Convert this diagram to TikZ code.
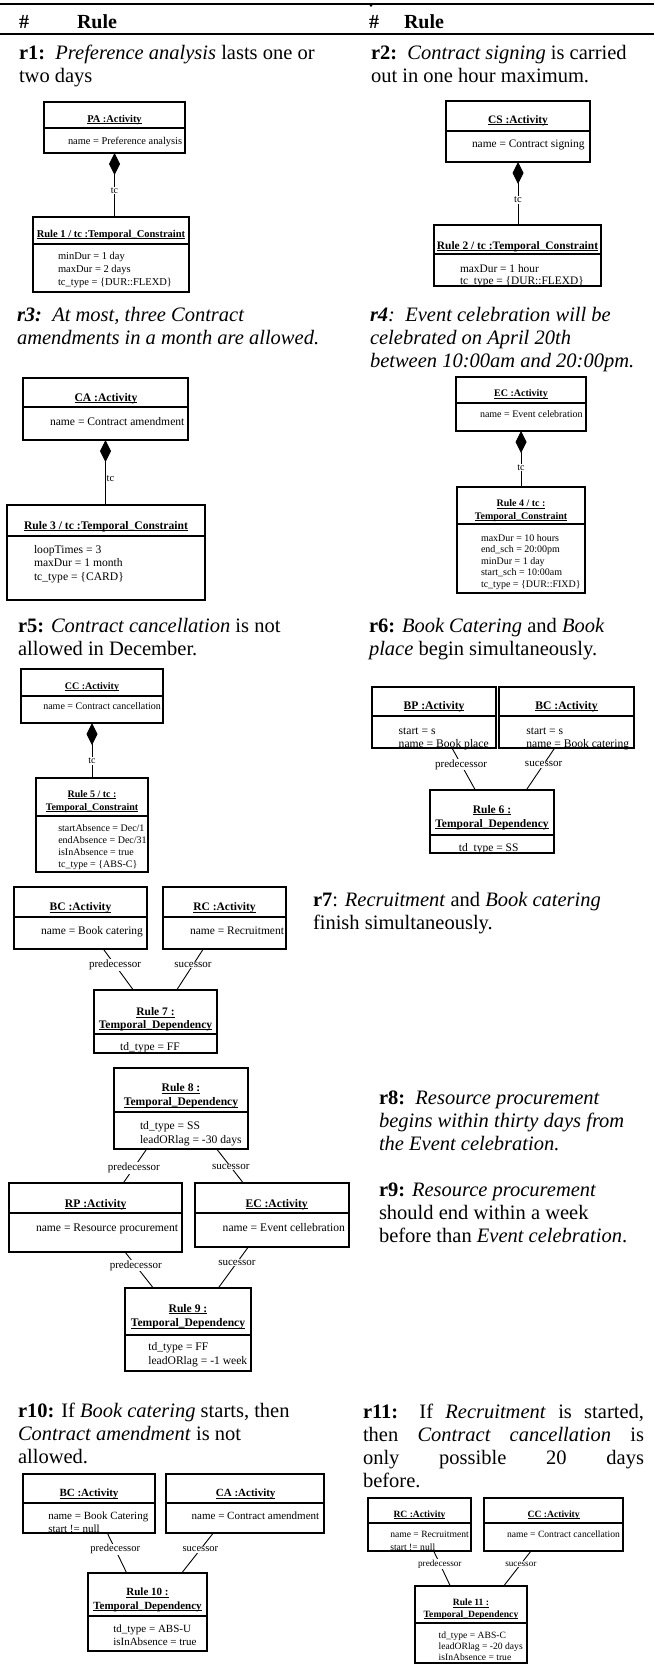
\documentclass[tikz,border=0pt]{standalone}
\usepackage{fontspec}
\setmainfont{Liberation Serif}
\usetikzlibrary{arrows.meta}

\newcommand{\fsz}[1]{\fontsize{#1}{#1}\selectfont}
\newsavebox{\ulbox}
\newcommand{\ulname}[1]{\sbox{\ulbox}{#1}\rlap{\rule[-1.6pt]{\wd\ulbox}{0.7pt}}\usebox{\ulbox}}

\tikzset{
  box/.style={draw, line width=1.1pt, anchor=north west, inner sep=0pt, outer sep=0pt},
  divider/.style={line width=1.1pt},
  txt/.style={inner sep=0pt, outer sep=0pt, anchor=base west},
  ttl/.style={inner sep=0pt, outer sep=0pt, anchor=base},
  link/.style={line width=0.9pt},
  comp/.style={link, {Diamond[length=22pt,width=11pt]}-},
  lbl/.style={fill=white, inner sep=0.8pt},
  para/.style={inner sep=0pt, outer sep=0pt, anchor=base west, font=\fontsize{20.5}{23}\selectfont},
  head/.style={inner sep=0pt, outer sep=0pt, anchor=base west, font=\fontsize{20}{23}\selectfont\bfseries},
}

\begin{document}
\begin{tikzpicture}[x=1pt, y=-1pt]
\useasboundingbox[fill=white] (0,0) rectangle (654,1664);

% ---------- table header ----------
\draw[line width=1.6pt] (0,4) -- (654,4);
\fill (371,5.5) circle (1.3pt);
\node[head] (h1) at (19,29) {\#};
\node[head] (h2) at (77,29) {Rule};
\node[head] (h3) at (369,29) {\#};
\node[head] (h4) at (404,29) {Rule};
\draw[line width=1.6pt] (0,34) -- (654,34);

% ---------- rule texts ----------
\node[para] (t1a) at (19,60) {\textbf{r1:}\ \ \textit{Preference analysis} lasts one or};
\node[para] (t1b) at (19,83) {two days};
\node[para] (t2a) at (371,60) {\textbf{r2:}\ \ \textit{Contract signing} is carried};
\node[para] (t2b) at (371,83) {out in one hour maximum.};

\node[para] (t3a) at (17,321) {\textit{\textbf{r3:}\ \ At most, three Contract}};
\node[para] (t3b) at (17,344) {\textit{amendments in a month are allowed.}};
\node[para] (t4a) at (370,321) {\textit{\textbf{r4}:\ \ Event celebration will be}};
\node[para] (t4b) at (370,344) {\textit{celebrated on April 20th}};
\node[para] (t4c) at (370,367) {\textit{between 10:00am and 20:00pm.}};

\node[para] (t5a) at (18,632) {\textbf{r5:} \textit{Contract cancellation} is not};
\node[para] (t5b) at (18,655) {allowed in December.};
\node[para] (t6a) at (369,632) {\textbf{r6:} \textit{Book Catering} and \textit{Book}};
\node[para] (t6b) at (369,655) {\textit{place} begin simultaneously.};

\node[para] (t7a) at (313,906) {\textbf{r7}: \textit{Recruitment} and \textit{Book catering}};
\node[para] (t7b) at (313,929) {finish simultaneously.};

\node[para] (t8a) at (379,1104) {\textbf{r8:}\ \ \textit{Resource procurement}};
\node[para] (t8b) at (379,1127) {\textit{begins within thirty days from}};
\node[para] (t8c) at (379,1150) {\textit{the Event celebration.}};
\node[para] (t9a) at (379,1196) {\textbf{r9:} \textit{Resource procurement}};
\node[para] (t9b) at (379,1219) {should end within a week};
\node[para] (t9c) at (379,1242) {before than \textit{Event celebration}.};

\node[para] (t10a) at (18,1417) {\textbf{r10:} If \textit{Book catering} starts, then};
\node[para] (t10b) at (18,1440) {\textit{Contract amendment} is not};
\node[para] (t10c) at (18,1463) {allowed.};
\node[para] (t11a) at (363,1418) {\makebox[281pt][s]{\textbf{r11:} If \textit{Recruitment} is started,}};
\node[para] (t11b) at (363,1441) {\makebox[281pt][s]{then \textit{Contract cancellation} is}};
\node[para] (t11c) at (363,1464) {\makebox[281pt][s]{only possible 20 days}};
\node[para] (t11d) at (363,1487) {before.};

% ---------- r1 ----------
\node[box, minimum width=141pt, minimum height=51pt] (pa) at (44,102) {};
\draw[divider] (pa.west |- 0,128) -- (pa.east |- 0,128);
\node[ttl, font={\fsz{10.4}\bfseries}] (pa1) at (114.5,122.5) {\ulname{PA :Activity}};
\node[txt, font=\fsz{10.4}] (pa2) at (68,144.5) {name = Preference analysis};
\node[box, minimum width=156pt, minimum height=75pt] (ra) at (33,217) {};
\draw[divider] (ra.west |- 0,244) -- (ra.east |- 0,244);
\node[ttl, font={\fsz{10.5}\bfseries}] (ra1) at (111,237.5) {\ulname{Rule 1 / tc :Temporal\_Constraint}};
\node[txt, font=\fsz{10.5}] (ra2) at (58,259.5) {minDur = 1 day};
\node[txt, font=\fsz{10.5}] (ra3) at (58,272.5) {maxDur = 2 days};
\node[txt, font=\fsz{10.5}] (ra4) at (58,285.5) {tc\_type = \{DUR::FLEXD\}};
\draw[comp] (pa.south) -- (pa.south |- ra.north) node[lbl, pos=0.59, font=\fsz{10}] (tca) {tc};

% ---------- r2 ----------
\node[box, minimum width=144pt, minimum height=61pt] (cs) at (446,101) {};
\draw[divider] (cs.west |- 0,131) -- (cs.east |- 0,131);
\node[ttl, font={\fsz{11.4}\bfseries}] (cs1) at (518,123.3) {\ulname{CS :Activity}};
\node[txt, font=\fsz{11.4}] (cs2) at (472,147.3) {name = Contract signing};
\node[box, minimum width=167pt, minimum height=61pt] (rb) at (434,225) {};
\draw[divider] (rb.west |- 0,254) -- (rb.east |- 0,254);
\node[ttl, font={\fsz{11.4}\bfseries}] (rb1) at (517.5,249) {\ulname{Rule 2 / tc :Temporal\_Constraint}};
\node[txt, font=\fsz{11.4}] (rb2) at (460,272.3) {maxDur = 1 hour};
\node[txt, font=\fsz{11.4}] (rb3) at (460,284) {tc\_type = \{DUR::FLEXD\}};
\draw[comp] (cs.south) -- (cs.south |- rb.north) node[lbl, pos=0.6, font=\fsz{10.5}] (tcb) {tc};

% ---------- r3 ----------
\node[box, minimum width=165pt, minimum height=62pt] (ca) at (23,378) {};
\draw[divider] (ca.west |- 0,407) -- (ca.east |- 0,407);
\node[ttl, font={\fsz{11.6}\bfseries}] (ca1) at (106,401.3) {\ulname{CA :Activity}};
\node[txt, font=\fsz{11.6}] (ca2) at (50,425) {name = Contract amendment};
\node[box, minimum width=198pt, minimum height=95pt] (rc) at (7,505) {};
\draw[divider] (rc.west |- 0,536) -- (rc.east |- 0,536);
\node[ttl, font={\fsz{11.6}\bfseries}] (rc1) at (106,529) {\ulname{Rule 3 / tc :Temporal\_Constraint}};
\node[txt, font=\fsz{11.6}] (rc2) at (34,553) {loopTimes = 3};
\node[txt, font=\fsz{11.6}] (rc3) at (34,566.5) {maxDur = 1 month};
\node[txt, font=\fsz{11.6}] (rc4) at (34,580) {tc\_type = \{CARD\}};
\draw[comp] (ca.south) -- (ca.south |- rc.north) node[lbl, pos=0.6, font=\fsz{10.5}, xshift=5pt] (tcc) {tc};

% ---------- r4 ----------
\node[box, minimum width=130pt, minimum height=54pt] (ec) at (456,377) {};
\draw[divider] (ec.west |- 0,403) -- (ec.east |- 0,403);
\node[ttl, font={\fsz{10}\bfseries}] (ec1) at (521,396.8) {\ulname{EC :Activity}};
\node[txt, font=\fsz{10}] (ec2) at (480,417.8) {name = Event celebration};
\node[box, minimum width=128pt, minimum height=106pt] (rd) at (457,487) {};
\draw[divider] (rd.west |- 0,524) -- (rd.east |- 0,524);
\node[ttl, font={\fsz{10}\bfseries}] (rd1) at (521,506.8) {\ulname{Rule 4 / tc :}};
\node[ttl, font={\fsz{10}\bfseries}] (rd2) at (521,519.5) {\ulname{Temporal\_Constraint}};
\node[txt, font=\fsz{10}] (rd3) at (481,541) {maxDur = 10 hours};
\node[txt, font=\fsz{10}] (rd4) at (481,552.5) {end\_sch = 20:00pm};
\node[txt, font=\fsz{10}] (rd5) at (481,564) {minDur = 1 day};
\node[txt, font=\fsz{10}] (rd6) at (481,575.5) {start\_sch = 10:00am};
\node[txt, font=\fsz{10}] (rd7) at (481,587) {tc\_type = \{DUR::FIXD\}};
\draw[comp] (ec.south) -- (ec.south |- rd.north) node[lbl, pos=0.655, font=\fsz{10}] (tcd) {tc};

% ---------- r5 ----------
\node[box, minimum width=142pt, minimum height=54pt] (cc) at (21,669) {};
\draw[divider] (cc.west |- 0,696) -- (cc.east |- 0,696);
\node[ttl, font={\fsz{10}\bfseries}] (cc1) at (92,689.2) {\ulname{CC :Activity}};
\node[txt, font=\fsz{10}] (cc2) at (43.3,709.5) {name = Contract cancellation};
\node[box, minimum width=112pt, minimum height=94pt] (re) at (36,778) {};
\draw[divider] (re.west |- 0,816) -- (re.east |- 0,816);
\node[ttl, font={\fsz{10}\bfseries}] (re1) at (92,797.5) {\ulname{Rule 5 / tc :}};
\node[ttl, font={\fsz{10}\bfseries}] (re2) at (92,810.2) {\ulname{Temporal\_Constraint}};
\node[txt, font=\fsz{10}] (re3) at (58.3,831) {startAbsence = Dec/1};
\node[txt, font=\fsz{10}] (re4) at (58.3,843.2) {endAbsence = Dec/31};
\node[txt, font=\fsz{10}] (re5) at (58.3,855.3) {isInAbsence = true};
\node[txt, font=\fsz{10}] (re6) at (58.3,867.5) {tc\_type = \{ABS-C\}};
\draw[comp] (cc.south) -- (cc.south |- re.north) node[lbl, pos=0.69, font=\fsz{10}] (tce) {tc};

% ---------- r6 ----------
\node[box, minimum width=124pt, minimum height=61pt] (bp) at (372,687) {};
\draw[divider] (bp.west |- 0,716) -- (bp.east |- 0,716);
\node[ttl, font={\fsz{11.6}\bfseries}] (bp1) at (434,709) {\ulname{BP :Activity}};
\node[txt, font=\fsz{11.6}] (bp2) at (398.7,734) {start = s};
\node[txt, font=\fsz{11.6}] (bp3) at (398.7,747.3) {name = Book place};
\node[box, minimum width=135pt, minimum height=61pt] (bcf) at (499,687) {};
\draw[divider] (bcf.west |- 0,716) -- (bcf.east |- 0,716);
\node[ttl, font={\fsz{11.6}\bfseries}] (bcf1) at (566.5,709) {\ulname{BC :Activity}};
\node[txt, font=\fsz{11.6}] (bcf2) at (526.3,734) {start = s};
\node[txt, font=\fsz{11.6}] (bcf3) at (526.3,747.3) {name = Book catering};
\node[box, minimum width=124pt, minimum height=63pt] (rf) at (430,790) {};
\draw[divider] (rf.west |- 0,835) -- (rf.east |- 0,835);
\node[ttl, font={\fsz{11.5}\bfseries}] (rf1) at (492,813.3) {\ulname{Rule 6 :}};
\node[ttl, font={\fsz{11.5}\bfseries}] (rf2) at (492,827.3) {\ulname{Temporal\_Dependency}};
\node[ttl, font=\fsz{11.5}] (rf3) at (488.7,851.3) {td\_type = SS};
\draw[link] ([xshift=18pt]bp.south) -- ([xshift=-16.7pt]rf.north) node[lbl, pos=0.39, font=\fsz{11}] (pdf) {predecessor};
\draw[link] ([xshift=-11.8pt]bcf.south) -- ([xshift=34.3pt]rf.north) node[lbl, pos=0.39, font=\fsz{11}] (suf) {sucessor};

% ---------- r7 ----------
\node[box, minimum width=133pt, minimum height=62pt] (bcg) at (14,887) {};
\draw[divider] (bcg.west |- 0,917) -- (bcg.east |- 0,917);
\node[ttl, font={\fsz{11.5}\bfseries}] (bcg1) at (80.5,910.7) {\ulname{BC :Activity}};
\node[txt, font=\fsz{11.5}] (bcg2) at (41,934.7) {name = Book catering};
\node[box, minimum width=123pt, minimum height=62pt] (rcg) at (163,887) {};
\draw[divider] (rcg.west |- 0,917) -- (rcg.east |- 0,917);
\node[ttl, font={\fsz{11.5}\bfseries}] (rcg1) at (224.5,910.7) {\ulname{RC :Activity}};
\node[txt, font=\fsz{11.5}] (rcg2) at (190,934.7) {name = Recruitment};
\node[box, minimum width=123pt, minimum height=63pt] (rg) at (94,990) {};
\draw[divider] (rg.west |- 0,1034) -- (rg.east |- 0,1034);
\node[ttl, font={\fsz{11.5}\bfseries}] (rg1) at (155.5,1015.7) {\ulname{Rule 7 :}};
\node[ttl, font={\fsz{11.5}\bfseries}] (rg2) at (155.5,1028) {\ulname{Temporal\_Dependency}};
\node[ttl, font=\fsz{11.5}] (rg3) at (150,1050.7) {td\_type = FF};
\draw[link] ([xshift=22.8pt]bcg.south) -- ([xshift=-22.2pt]rg.north) node[lbl, pos=0.39, font=\fsz{11}] (pdg) {predecessor};
\draw[link] ([xshift=-21.2pt]rcg.south) -- ([xshift=21.2pt]rg.north) node[lbl, pos=0.39, font=\fsz{11}] (sug) {sucessor};

% ---------- r8 / r9 ----------
\node[box, minimum width=134pt, minimum height=81pt] (rh) at (114,1068) {};
\draw[divider] (rh.west |- 0,1112) -- (rh.east |- 0,1112);
\node[ttl, font={\fsz{11.6}\bfseries}] (rh1) at (181,1091.7) {\ulname{Rule 8 :}};
\node[ttl, font={\fsz{11.6}\bfseries}] (rh2) at (181,1105.7) {\ulname{Temporal\_Dependency}};
\node[txt, font=\fsz{11.6}] (rh3) at (140,1129.7) {td\_type = SS};
\node[txt, font=\fsz{11.6}] (rh4) at (140,1143.3) {leadORlag = -30 days};
\node[box, minimum width=173pt, minimum height=69pt] (rp) at (9,1183) {};
\draw[divider] (rp.west |- 0,1213) -- (rp.east |- 0,1213);
\node[ttl, font={\fsz{11.6}\bfseries}] (rp1) at (95.7,1207.3) {\ulname{RP :Activity}};
\node[txt, font=\fsz{11.6}] (rp2) at (36,1231.3) {name = Resource procurement};
\node[box, minimum width=154pt, minimum height=64pt] (ech) at (195,1183) {};
\draw[divider] (ech.west |- 0,1213) -- (ech.east |- 0,1213);
\node[ttl, font={\fsz{11.6}\bfseries}] (ech1) at (276.7,1207.3) {\ulname{EC :Activity}};
\node[txt, font=\fsz{11.6}] (ech2) at (222.7,1231.3) {name = Event cellebration};
\node[box, minimum width=126pt, minimum height=83pt] (ri) at (125,1288) {};
\draw[divider] (ri.west |- 0,1335) -- (ri.east |- 0,1335);
\node[ttl, font={\fsz{11.6}\bfseries}] (ri1) at (188,1312.3) {\ulname{Rule 9 :}};
\node[ttl, font={\fsz{11.6}\bfseries}] (ri2) at (188,1326.7) {\ulname{Temporal\_Dependency}};
\node[txt, font=\fsz{11.6}] (ri3) at (148.3,1350.7) {td\_type = FF};
\node[txt, font=\fsz{11.6}] (ri4) at (148.3,1364) {leadORlag = -1 week};
\draw[link] ([xshift=-34.3pt]rh.south) -- ([xshift=27.8pt]rp.north) node[lbl, pos=0.55, font=\fsz{11}] (pdh) {predecessor};
\draw[link] ([xshift=35.7pt]rh.south) -- ([xshift=-28.7pt]ech.north) node[lbl, pos=0.53, font=\fsz{11}] (suh) {sucessor};
\draw[link] ([xshift=29.5pt]rp.south) -- ([xshift=-34.7pt]ri.north) node[lbl, pos=0.38, font=\fsz{11}] (pdi) {predecessor};
\draw[link] ([xshift=-23.7pt]ech.south) -- ([xshift=30.3pt]ri.north) node[lbl, pos=0.38, font=\fsz{11}] (sui) {sucessor};

% ---------- r10 ----------
\node[box, minimum width=132pt, minimum height=59pt] (bcj) at (23,1474) {};
\draw[divider] (bcj.west |- 0,1503) -- (bcj.east |- 0,1503);
\node[ttl, font={\fsz{11}\bfseries}] (bcj1) at (89,1496.7) {\ulname{BC :Activity}};
\node[txt, font=\fsz{11}] (bcj2) at (48.3,1519) {name = Book Catering};
\node[txt, font=\fsz{11}] (bcj3) at (48.3,1532.3) {start != null};
\node[box, minimum width=158pt, minimum height=59pt] (caj) at (166,1474) {};
\draw[divider] (caj.west |- 0,1503) -- (caj.east |- 0,1503);
\node[ttl, font={\fsz{11}\bfseries}] (caj1) at (245.7,1496.7) {\ulname{CA :Activity}};
\node[txt, font=\fsz{11}] (caj2) at (191.7,1519) {name = Contract amendment};
\node[box, minimum width=119pt, minimum height=78pt] (rj) at (88,1573) {};
\draw[divider] (rj.west |- 0,1616) -- (rj.east |- 0,1616);
\node[ttl, font={\fsz{11}\bfseries}] (rj1) at (147.5,1595.7) {\ulname{Rule 10 :}};
\node[ttl, font={\fsz{11}\bfseries}] (rj2) at (147.5,1609) {\ulname{Temporal\_Dependency}};
\node[txt, font=\fsz{11}] (rj3) at (113.3,1632.3) {td\_type = ABS-U};
\node[txt, font=\fsz{11}] (rj4) at (113.3,1645.7) {isInAbsence = true};
\draw[link] ([xshift=18.3pt]bcj.south) -- ([xshift=-20.8pt]rj.north) node[lbl, pos=0.41, font=\fsz{10.5}] (pdj) {predecessor};
\draw[link] ([xshift=-31.7pt]caj.south) -- ([xshift=34.2pt]rj.north) node[lbl, pos=0.41, font=\fsz{10.5}] (suj) {sucessor};

% ---------- r11 ----------
\node[box, minimum width=103pt, minimum height=53pt] (rck) at (368,1498) {};
\draw[divider] (rck.west |- 0,1523) -- (rck.east |- 0,1523);
\node[ttl, font={\fsz{9.6}\bfseries}] (rck1) at (419.5,1517.5) {\ulname{RC :Activity}};
\node[txt, font=\fsz{9.6}] (rck2) at (390.3,1537.8) {name = Recruitment};
\node[txt, font=\fsz{9.6}] (rck3) at (390.3,1550.2) {start != null};
\node[box, minimum width=139pt, minimum height=53pt] (cck) at (484,1498) {};
\draw[divider] (cck.west |- 0,1523) -- (cck.east |- 0,1523);
\node[ttl, font={\fsz{9.6}\bfseries}] (cck1) at (553.7,1517.5) {\ulname{CC :Activity}};
\node[txt, font=\fsz{9.6}] (cck2) at (507,1537.8) {name = Contract cancellation};
\node[box, minimum width=112pt, minimum height=77pt] (rk) at (415,1586) {};
\draw[divider] (rk.west |- 0,1623) -- (rk.east |- 0,1623);
\node[ttl, font={\fsz{9.6}\bfseries}] (rk1) at (471,1605.8) {\ulname{Rule 11 :}};
\node[ttl, font={\fsz{9.6}\bfseries}] (rk2) at (471,1617.5) {\ulname{Temporal\_Dependency}};
\node[txt, font=\fsz{9.6}] (rk3) at (438.7,1638.5) {td\_type = ABS-C};
\node[txt, font=\fsz{9.6}] (rk4) at (438.7,1649.5) {leadORlag = -20 days};
\node[txt, font=\fsz{9.6}] (rk5) at (438.7,1660.8) {isInAbsence = true};
\draw[link] ([xshift=14.2pt]rck.south) -- ([xshift=-20.7pt]rk.north) node[lbl, pos=0.37, font=\fsz{9.2}] (pdk) {predecessor};
\draw[link] ([xshift=-22.5pt]cck.south) -- ([xshift=32.7pt]rk.north) node[lbl, pos=0.37, font=\fsz{9.2}] (suk) {sucessor};

\end{tikzpicture}
\end{document}
